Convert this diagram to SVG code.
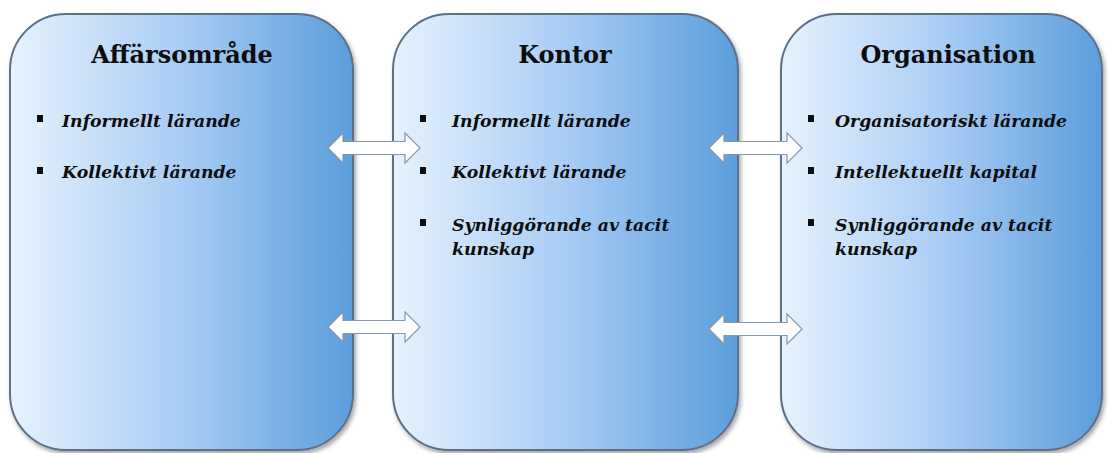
<svg xmlns="http://www.w3.org/2000/svg" width="1113" height="453" viewBox="0 0 1113 453">
  <defs>
    <linearGradient id="boxFill" x1="0" y1="0" x2="1" y2="0">
      <stop offset="0" stop-color="#e6f2fd"/>
      <stop offset="0.5" stop-color="#a9cdf5"/>
      <stop offset="1" stop-color="#5b9ddb"/>
    </linearGradient>
    <filter id="shadow" x="-5%" y="-5%" width="112%" height="112%">
      <feDropShadow dx="2" dy="3" stdDeviation="2" flood-color="#000" flood-opacity="0.35"/>
    </filter>
  </defs>
  <style>
    .box { fill: url(#boxFill); stroke: #5d7088; stroke-width: 2; filter: url(#shadow); }
    .title { font-family: "DejaVu Serif", "Liberation Serif", serif; font-weight: bold; font-size: 24px; fill: #0d0d0d; text-anchor: middle; }
    .item { font-family: "DejaVu Serif", "Liberation Serif", serif; font-weight: bold; font-style: italic; font-size: 17.3px; fill: #0d0d0d; }
    .bullet { fill: #0d0d0d; }
    .arrow { fill: #ffffff; stroke: #8797ab; stroke-width: 1.2; }
  </style>
  <rect width="1113" height="453" fill="#ffffff"/>

  <g id="affarsomrade">
    <rect class="box" x="10" y="14" width="343" height="436" rx="56" ry="56"/>
    <text class="title" x="182" y="63">Affärsområde</text>
    <rect class="bullet" x="37" y="115" width="6" height="7"/>
    <text class="item" x="62" y="127">Informellt lärande</text>
    <rect class="bullet" x="37" y="167" width="6" height="7"/>
    <text class="item" x="62" y="178">Kollektivt lärande</text>
  </g>

  <g id="kontor">
    <rect class="box" x="393" y="14" width="345" height="436" rx="56" ry="56"/>
    <text class="title" x="565" y="63">Kontor</text>
    <rect class="bullet" x="420" y="115" width="6" height="7"/>
    <text class="item" x="452" y="127">Informellt lärande</text>
    <rect class="bullet" x="420" y="167" width="6" height="7"/>
    <text class="item" x="452" y="178">Kollektivt lärande</text>
    <rect class="bullet" x="420" y="219" width="6" height="7"/>
    <text class="item" x="452" y="231">Synliggörande av tacit</text>
    <text class="item" x="452" y="255">kunskap</text>
  </g>

  <g id="organisation">
    <rect class="box" x="781" y="14" width="321" height="436" rx="56" ry="56"/>
    <text class="title" x="948" y="63">Organisation</text>
    <rect class="bullet" x="808" y="115" width="6" height="7"/>
    <text class="item" x="835" y="127">Organisatoriskt lärande</text>
    <rect class="bullet" x="808" y="167" width="6" height="7"/>
    <text class="item" x="835" y="178">Intellektuellt kapital</text>
    <rect class="bullet" x="808" y="219" width="6" height="7"/>
    <text class="item" x="835" y="231">Synliggörande av tacit</text>
    <text class="item" x="835" y="255">kunskap</text>
  </g>

  <g id="connectors">
    <path class="arrow" d="M328,148 L343,133 L343,141.5 L405,141.5 L405,133 L420,148 L405,163 L405,154.5 L343,154.5 L343,163 Z"/>
    <path class="arrow" d="M328,327 L343,312 L343,320.5 L405,320.5 L405,312 L420,327 L405,342 L405,333.5 L343,333.5 L343,342 Z"/>
    <path class="arrow" d="M709,148 L724,133 L724,141.5 L787,141.5 L787,133 L802,148 L787,163 L787,154.5 L724,154.5 L724,163 Z"/>
    <path class="arrow" d="M709,329 L724,314 L724,322.5 L787,322.5 L787,314 L802,329 L787,344 L787,335.5 L724,335.5 L724,344 Z"/>
  </g>
</svg>
